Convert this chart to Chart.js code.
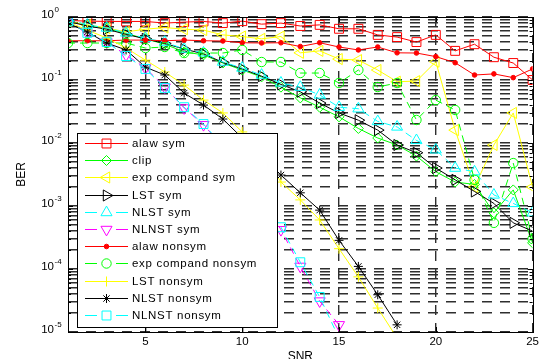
<!DOCTYPE html>
<html>
<head>
<meta charset="utf-8">
<script src="https://cdn.jsdelivr.net/npm/chart.js@4.4.1/dist/chart.umd.min.js"></script>
<style>
  html, body { margin: 0; padding: 0; background: #fff; overflow: hidden; }
  #wrap { position: relative; width: 542px; height: 366px; }
</style>
</head>
<body>
<div id="wrap"><canvas id="berChart"></canvas></div>
<script>
// x axis (SNR)
const snr = [1, 2, 3, 4, 5, 6, 7, 8, 9, 10, 11, 12, 13, 14, 15, 16, 17, 18, 19, 20, 21, 22, 23, 24, 25];
const xTicks = [5, 10, 15, 20, 25];

// BER values
const alawSym    = [0.88, 0.86, 0.85, 0.85, 0.85, 0.80, 0.83, 0.85, 0.80, 0.86, 0.77, 0.80, 0.72, 0.75, 0.65, 0.65, 0.52, 0.48, 0.40, 0.52, 0.29, 0.37, 0.23, 0.186, 0.10];
const clipBer    = [0.85, 0.74, 0.66, 0.55, 0.45, 0.37, 0.28, 0.25, 0.186, 0.144, 0.112, 0.077, 0.052, 0.037, 0.026, 0.017, 0.012, 0.0093, 0.0062, 0.0035, 0.0024, 0.0022, 0.00078, 0.0018, 0.00026];
const expSym     = [0.85, 0.75, 0.67, 0.58, 0.64, 0.68, 0.64, 0.62, 0.52, 0.49, 0.45, 0.49, 0.27, 0.29, 0.215, 0.207, 0.144, 0.094, 0.096, 0.195, 0.016, 0.002, 0.0093, 0.030, 0.002];
const lstSym     = [0.85, 0.72, 0.64, 0.53, 0.45, 0.38, 0.31, 0.26, 0.19, 0.15, 0.115, 0.085, 0.065, 0.043, 0.030, 0.023, 0.016, 0.0093, 0.007, 0.004, 0.0026, 0.0017, 0.0011, 0.00054, 0.0004];
const nlstSym    = [0.93, 0.75, 0.67, 0.56, 0.46, 0.40, 0.31, 0.27, 0.193, 0.155, 0.12, 0.09, 0.077, 0.058, 0.037, 0.035, 0.022, 0.018, 0.011, 0.0078, 0.0040, 0.0035, 0.0015, 0.0011, 0.00078];
const nlnstSym   = [0.93, 0.55, 0.40, 0.25, 0.155, 0.077, 0.036, 0.0195, 0.0087, 0.0035, 0.0013, 0.00042, 0.00011, 0.000031, 0.000013, null, null, null, null, null, null, null, null, null, null];
const alawNonsym = [0.42, 0.42, 0.42, 0.43, 0.43, 0.42, 0.43, 0.42, 0.416, 0.39, 0.387, 0.39, 0.34, 0.39, 0.334, 0.30, 0.334, 0.27, 0.268, 0.235, 0.188, 0.12, 0.125, 0.109, 0.15];
const expNonsym  = [0.386, 0.386, 0.386, 0.386, 0.322, 0.334, 0.268, 0.268, 0.268, 0.30, 0.193, 0.193, 0.129, 0.129, 0.0896, 0.144, 0.0774, 0.0896, 0.0232, 0.048, 0.0334, 0.0026, 0.00054, 0.0048, 0.0003];
const lstNonsym  = [0.83, 0.62, 0.464, 0.322, 0.207, 0.134, 0.083, 0.048, 0.030, 0.015, 0.0072, 0.0024, 0.00125, 0.0006, 0.00021, 0.000075, 0.000024, 0.000008, null, null, null, null, null, null, null];
const nlstNonsym = [0.80, 0.578, 0.386, 0.30, 0.16, 0.12, 0.062, 0.040, 0.024, 0.012, 0.006, 0.0031, 0.00162, 0.00086, 0.000285, 0.00011, 0.000039, 0.000013, null, null, null, null, null, null, null];
const nlnstNonsym= [0.85, 0.56, 0.40, 0.24, 0.15, 0.075, 0.037, 0.020, 0.009, 0.0037, 0.0014, 0.00046, 0.000128, 0.000036, 0.000008, null, null, null, null, null, null, null, null, null, null];

// y axis decade labels
const yDecades  = [1, 0.1, 0.01, 0.001, 0.0001, 0.00001];
const yExponent = ['0', '-1', '-2', '-3', '-4', '-5'];

const FONT = '"Liberation Sans", Arial, Helvetica, sans-serif';
const DASH = [7, 5];

// series look (matlab style markers)
const series = [
  {label: 'alaw sym',           data: alawSym,     color: '#ff0000', marker: 'rect',     radius: 6.3},
  {label: 'clip',               data: clipBer,     color: '#00ff00', marker: 'rectRot',  radius: 5},
  {label: 'exp compand sym',    data: expSym,      color: '#ffff00', marker: 'triangle', radius: 6.4, rot: -90},
  {label: 'LST sym',            data: lstSym,      color: '#000000', marker: 'triangle', radius: 6.4, rot: 90},
  {label: 'NLST sym',           data: nlstSym,     color: '#00ffff', marker: 'triangle', radius: 6.4, dash: DASH},
  {label: 'NLNST sym',          data: nlnstSym,    color: '#ff00ff', marker: 'triangle', radius: 6.4, rot: 180, dash: DASH},
  {label: 'alaw nonsym',        data: alawNonsym,  color: '#ff0000', marker: 'circle',   radius: 2.3, filled: true},
  {label: 'exp compand nonsym', data: expNonsym,   color: '#00ff00', marker: 'circle',   radius: 4.7, dash: DASH},
  {label: 'LST nonsym',         data: lstNonsym,   color: '#ffff00', marker: 'cross',    radius: 5},
  {label: 'NLST nonsym',        data: nlstNonsym,  color: '#000000', marker: 'star',     radius: 4.5},
  {label: 'NLNST nonsym',       data: nlnstNonsym, color: '#00ffff', marker: 'rect',     radius: 6.3, dash: DASH},
];

// minor grid values for the log axis
const yGrid = [];
for (let e = -5; e < 0; e++) {
  for (let m = 1; m <= 9; m++) yGrid.push(m * Math.pow(10, e));
}
yGrid.push(1);

const datasets = series.map((s, i) => ({
  label: s.label,
  data: snr.map((x, j) => ({x: x, y: s.data[j]})),
  borderColor: s.color,
  backgroundColor: s.color,
  borderWidth: 1,
  borderDash: s.dash || [],
  pointStyle: s.marker,
  pointRadius: s.radius,
  pointRotation: s.rot || 0,
  pointBorderColor: s.color,
  pointBackgroundColor: s.filled ? s.color : 'rgba(0,0,0,0)',
  pointBorderWidth: 1,
  tension: 0,
  fill: false,
  spanGaps: false,
  order: series.length - i
}));

// legend box inside the axes, lower left
const boxLegend = {
  id: 'boxLegend',
  afterDatasetsDraw(chart) {
    const ctx = chart.ctx;
    const lx = 77, ly = 133, lw = 200, lh = 194;
    ctx.save();
    ctx.fillStyle = '#fff';
    ctx.fillRect(lx, ly, lw, lh);
    ctx.strokeStyle = '#000';
    ctx.lineWidth = 1;
    ctx.setLineDash([]);
    ctx.strokeRect(lx + 0.5, ly + 0.5, lw, lh);
    series.forEach((s, i) => {
      const y = Math.round(143 + i * 17.2) + 0.5;
      ctx.strokeStyle = s.color;
      ctx.lineWidth = 1;
      ctx.setLineDash(s.dash ? [12, 19] : []);
      ctx.beginPath();
      ctx.moveTo(85, y);
      ctx.lineTo(128, y);
      ctx.stroke();
      ctx.setLineDash([]);
      ctx.fillStyle = s.filled ? s.color : 'rgba(0,0,0,0)';
      Chart.helpers.drawPoint(ctx, {pointStyle: s.marker, rotation: s.rot || 0, radius: s.radius, borderWidth: 1}, 106.5, y);
      ctx.fillStyle = '#000';
      ctx.font = '11.5px ' + FONT;
      ctx.letterSpacing = '0.7px';
      ctx.textAlign = 'left';
      ctx.textBaseline = 'middle';
      ctx.fillText(s.label, 132, y);
    });
    ctx.restore();
  }
};

// box, inward ticks and 10^n labels
const axesFrame = {
  id: 'axesFrame',
  afterDraw(chart) {
    const ctx = chart.ctx;
    const a = chart.chartArea;
    const ys = chart.scales.y, xs = chart.scales.x;
    ctx.save();
    ctx.strokeStyle = '#000';
    ctx.lineWidth = 1;
    ctx.setLineDash([]);
    ctx.strokeRect(Math.round(a.left) + 0.5, Math.round(a.top) + 0.5, Math.round(a.right - a.left), Math.round(a.bottom - a.top));
    ctx.beginPath();
    yGrid.forEach(v => {
      const y = Math.round(ys.getPixelForValue(v)) + 0.5;
      const len = yDecades.includes(v) ? 5 : 3;
      ctx.moveTo(a.left, y); ctx.lineTo(a.left + len, y);
      ctx.moveTo(a.right, y); ctx.lineTo(a.right - len, y);
    });
    xTicks.forEach(v => {
      const x = Math.round(xs.getPixelForValue(v)) + 0.5;
      ctx.moveTo(x, a.bottom); ctx.lineTo(x, a.bottom - 5);
      ctx.moveTo(x, a.top); ctx.lineTo(x, a.top + 5);
    });
    ctx.stroke();
    ctx.fillStyle = '#000';
    ctx.textBaseline = 'middle';
    yDecades.forEach((v, i) => {
      const y = ys.getPixelForValue(v);
      ctx.font = '11.5px ' + FONT;
      ctx.textAlign = 'right';
      ctx.fillText('10', 54, y - 2);
      ctx.font = '8px ' + FONT;
      ctx.textAlign = 'left';
      ctx.fillText(yExponent[i], 54.5, y - 7.5);
    });
    ctx.restore();
  }
};

Chart.defaults.font.family = FONT;
Chart.defaults.color = '#000';

new Chart(document.getElementById('berChart'), {
  type: 'line',
  data: {datasets: datasets},
  options: {
    responsive: true,
    maintainAspectRatio: false,
    animation: false,
    layout: {padding: {top: 17, right: 7, left: 0, bottom: 0}},
    plugins: {
      legend: {display: false},
      tooltip: {enabled: false}
    },
    scales: {
      x: {
        type: 'linear',
        min: 1,
        max: 25,
        afterBuildTicks: scale => { scale.ticks = xTicks.map(v => ({value: v})); },
        afterFit: scale => { scale.height = 34; },
        ticks: {font: {size: 11.5}, padding: 3, maxRotation: 0, autoSkip: false},
        grid: {color: '#2e2e2e', lineWidth: 1.4, drawTicks: false},
        border: {display: false, dash: [10, 8]},
        title: {display: true, text: 'SNR', font: {size: 12}, padding: {top: 0, bottom: 2}}
      },
      y: {
        type: 'logarithmic',
        min: 0.00001,
        max: 1,
        afterBuildTicks: scale => { scale.ticks = yGrid.map(v => ({value: v})); },
        afterFit: scale => { scale.width = 68; },
        ticks: {display: false},
        grid: {color: '#2e2e2e', lineWidth: 1.4, drawTicks: false},
        border: {display: false, dash: [10, 8]},
        title: {display: true, text: 'BER', font: {size: 12}, padding: {top: 14, bottom: 0}}
      }
    }
  },
  plugins: [boxLegend, axesFrame]
});
</script>
</body>
</html>
